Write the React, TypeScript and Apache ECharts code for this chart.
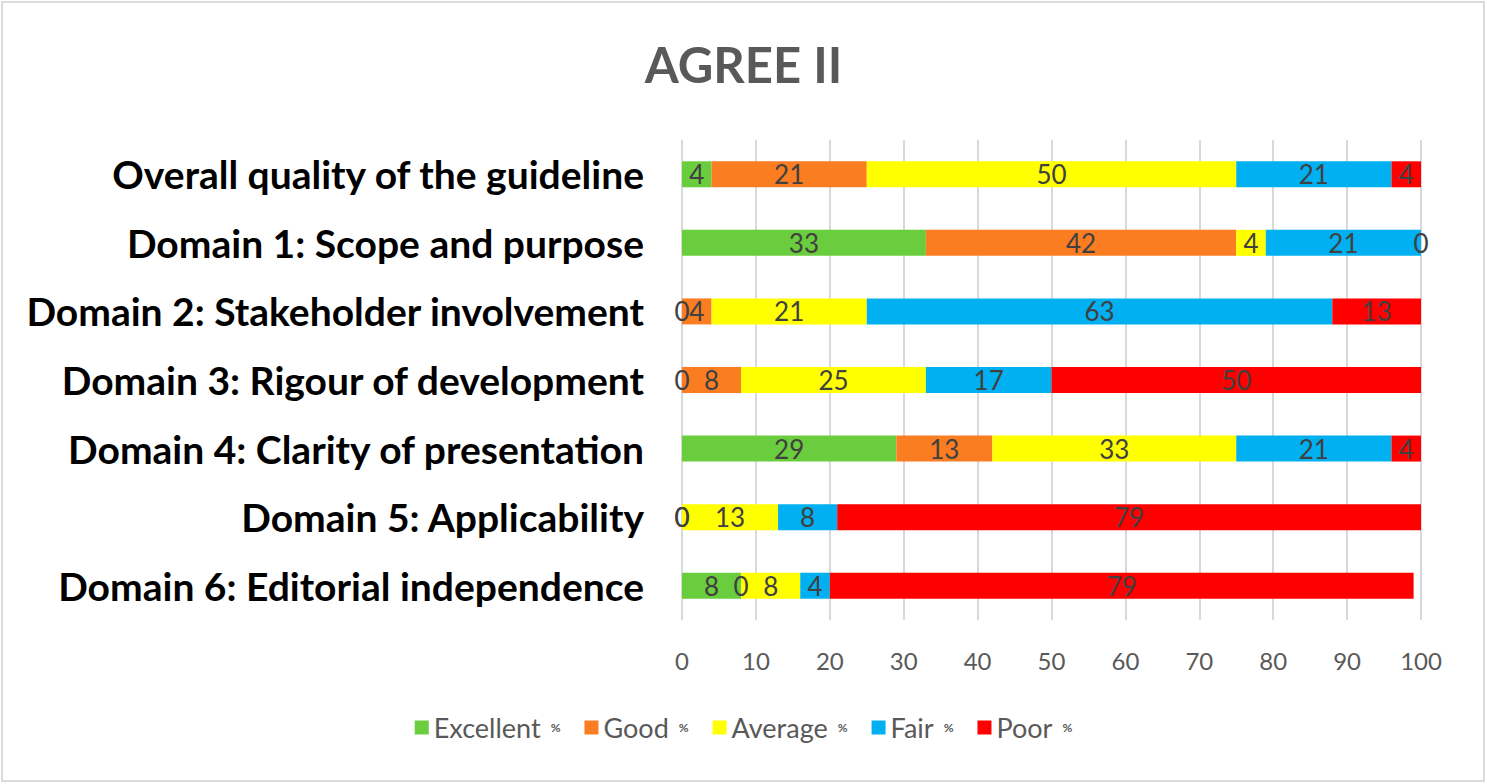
import React, { useEffect, useRef } from "react";
import * as echarts from "echarts";

const categories = [
  "Overall quality of the guideline",
  "Domain 1: Scope and purpose",
  "Domain 2: Stakeholder involvement",
  "Domain 3: Rigour of development",
  "Domain 4: Clarity of presentation",
  "Domain 5: Applicability",
  "Domain 6: Editorial independence",
];
const seriesNames = ["Excellent", "Good", "Average", "Fair", "Poor"];
const excellent = [4, 33, 0, 0, 29, 0, 8];
const good = [21, 42, 4, 8, 13, 0, 0];
const average = [50, 4, 21, 25, 33, 13, 8];
const fair = [21, 21, 63, 17, 21, 8, 4];
const poor = [4, 0, 13, 50, 4, 79, 79];
const xTicks = [0, 10, 20, 30, 40, 50, 60, 70, 80, 90, 100];
const colors = ["#6ACD3D", "#FA7D22", "#FFFF00", "#00B0F0", "#FF0000"];

const FONT = "Lato, 'Open Sans', sans-serif";

export default function App() {
  const ref = useRef<HTMLDivElement>(null);
  useEffect(() => {
    document.body.style.margin = "0";
    const chart = echarts.init(ref.current!, null, { renderer: "svg" });
    const values = [excellent, good, average, fair, poor];
    chart.setOption({
      animation: false,
      backgroundColor: "#ffffff",
      textStyle: { fontFamily: FONT },
      title: {
        text: "AGREE II",
        left: "center",
        top: 34,
        textStyle: { fontSize: 49, fontWeight: "bold", color: "#595959", fontFamily: FONT },
      },
      graphic: [
        {
          type: "rect",
          shape: { x: 2, y: 2, width: 1482, height: 779 },
          style: { fill: "none", stroke: "#D0D0D0", lineWidth: 1.5 },
          silent: true,
        },
      ],
      legend: {
        bottom: 38,
        left: "center",
        itemWidth: 14,
        itemHeight: 14,
        itemGap: 24,
        icon: "rect",
        data: seriesNames,
        formatter: (n: string) => `{n|${n}}{p|%}`,
        textStyle: {
          rich: {
            n: { fontSize: 27, color: "#595959", fontFamily: FONT },
            p: { fontSize: 12, color: "#595959", fontWeight: "bold", fontFamily: FONT, padding: [0, 0, 0, 10] },
          },
        },
      },
      grid: { left: 682, right: 66, top: 140, bottom: 164, containLabel: false },
      xAxis: {
        type: "value",
        min: 0,
        max: 100,
        interval: 10,
        axisLine: { show: false },
        axisTick: { show: false },
        splitLine: { show: true, lineStyle: { color: "#D9D9D9", width: 2 } },
        axisLabel: {
          fontSize: 24,
          color: "#595959",
          margin: 28,
          fontFamily: FONT,
          formatter: (v: number) => (xTicks.includes(v) ? String(v) : ""),
        },
      },
      yAxis: {
        type: "category",
        data: categories,
        inverse: true,
        axisLine: { show: false },
        axisTick: { show: false },
        axisLabel: {
          fontSize: 39,
          fontWeight: "bold",
          color: "#000000",
          margin: 38,
          fontFamily: FONT,
        },
      },
      series: seriesNames.map((name, i) => ({
        name,
        type: "bar",
        stack: "total",
        barWidth: 26,
        itemStyle: { color: colors[i] },
        label: {
          show: true,
          position: "inside",
          color: "#404040",
          fontSize: 26,
          fontFamily: FONT,
          formatter: (p: any) => String(p.value),
        },
        data: values[i],
      })),
    });
    return () => chart.dispose();
  }, []);
  return <div ref={ref} style={{ width: 1487, height: 784 }} />;
}
